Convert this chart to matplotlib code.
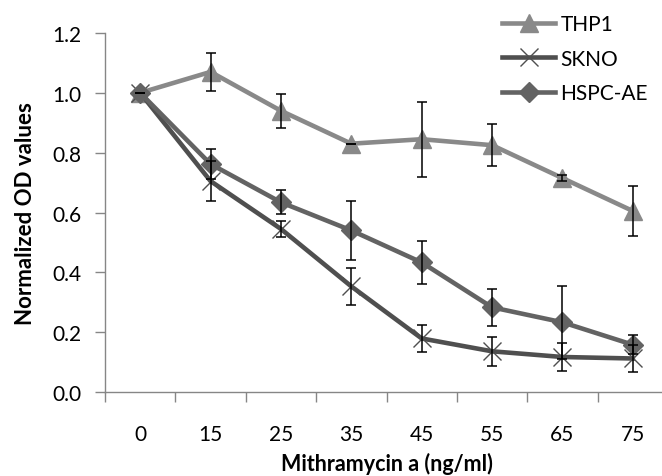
import matplotlib
matplotlib.use("Agg")
import matplotlib.pyplot as plt
from matplotlib.ticker import FixedLocator, FormatStrFormatter

plt.rcParams["font.family"] = ["Lato", "DejaVu Sans"]

doses = ["0", "15", "25", "35", "45", "55", "65", "75"]

thp1     = [1.00, 1.07, 0.94, 0.83, 0.845, 0.825, 0.715, 0.605]
thp1_err = [0.00, 0.063, 0.057, 0.00, 0.126, 0.07, 0.01, 0.083]

skno     = [1.00, 0.705, 0.545, 0.353, 0.179, 0.136, 0.117, 0.112]
skno_err = [0.00, 0.067, 0.027, 0.061, 0.046, 0.048, 0.047, 0.046]

hspc     = [1.00, 0.762, 0.634, 0.540, 0.433, 0.283, 0.233, 0.158]
hspc_err = [0.00, 0.05, 0.04, 0.10, 0.073, 0.062, 0.122, 0.031]

SERIES = [
    ("THP1",    thp1, thp1_err, "#898989", "^", dict(markersize=13)),
    ("SKNO",    skno, skno_err, "#4f4f4f", "x", dict(markersize=13, markeredgewidth=1.0)),
    ("HSPC-AE", hspc, hspc_err, "#636363", "D", dict(markersize=10)),
]

fig = plt.figure(figsize=(6.62, 4.77), dpi=100)
ax = fig.add_axes([0.1586, 0.1761, 0.8505, 0.7526])

x = list(range(len(doses)))
handles = []
for name, y, err, color, marker, mkw in SERIES:
    line, = ax.plot(x, y, color=color, lw=3.3, marker=marker,
                    markerfacecolor=color, markeredgecolor=color,
                    label=name, zorder=2, **mkw)
    ax.errorbar(x, y, yerr=err, fmt="none", ecolor="black", elinewidth=1.1,
                capsize=3.8, capthick=1.1, zorder=3)
    handles.append(line)

ax.set_xlim(-0.5, len(doses) - 0.5)
ax.set_ylim(0, 1.2)
ax.set_yticks([0.0, 0.2, 0.4, 0.6, 0.8, 1.0, 1.2])
ax.yaxis.set_major_formatter(FormatStrFormatter("%.1f"))

# category labels at the centres, tick marks between categories
ax.set_xticks(x)
ax.set_xticklabels(doses)
ax.xaxis.set_minor_locator(FixedLocator([i - 0.5 for i in range(len(doses) + 1)]))
ax.tick_params(axis="x", which="major", length=0, pad=23, labelsize=15)
ax.tick_params(axis="x", which="minor", length=7, width=1, color="#868686")
ax.tick_params(axis="y", length=7, width=1, color="#868686", labelsize=15, pad=10)

for side in ("top", "right"):
    ax.spines[side].set_visible(False)
for side in ("left", "bottom"):
    ax.spines[side].set_color("#868686")
    ax.spines[side].set_linewidth(1.0)

ax.set_xlabel("Mithramycin a (ng/ml)", fontsize=15.5, fontweight="bold", labelpad=6)
ax.set_ylabel("Normalized OD values", fontsize=16, fontweight="bold", labelpad=12)

fig.legend(handles=handles, loc="upper left", bbox_to_anchor=(502 / 662, 1 - 15 / 477),
           frameon=False, fontsize=15, handlelength=2.55, handletextpad=0.25,
           labelspacing=0.7, borderpad=0, borderaxespad=0)

fig.savefig("out.png", dpi=100)
